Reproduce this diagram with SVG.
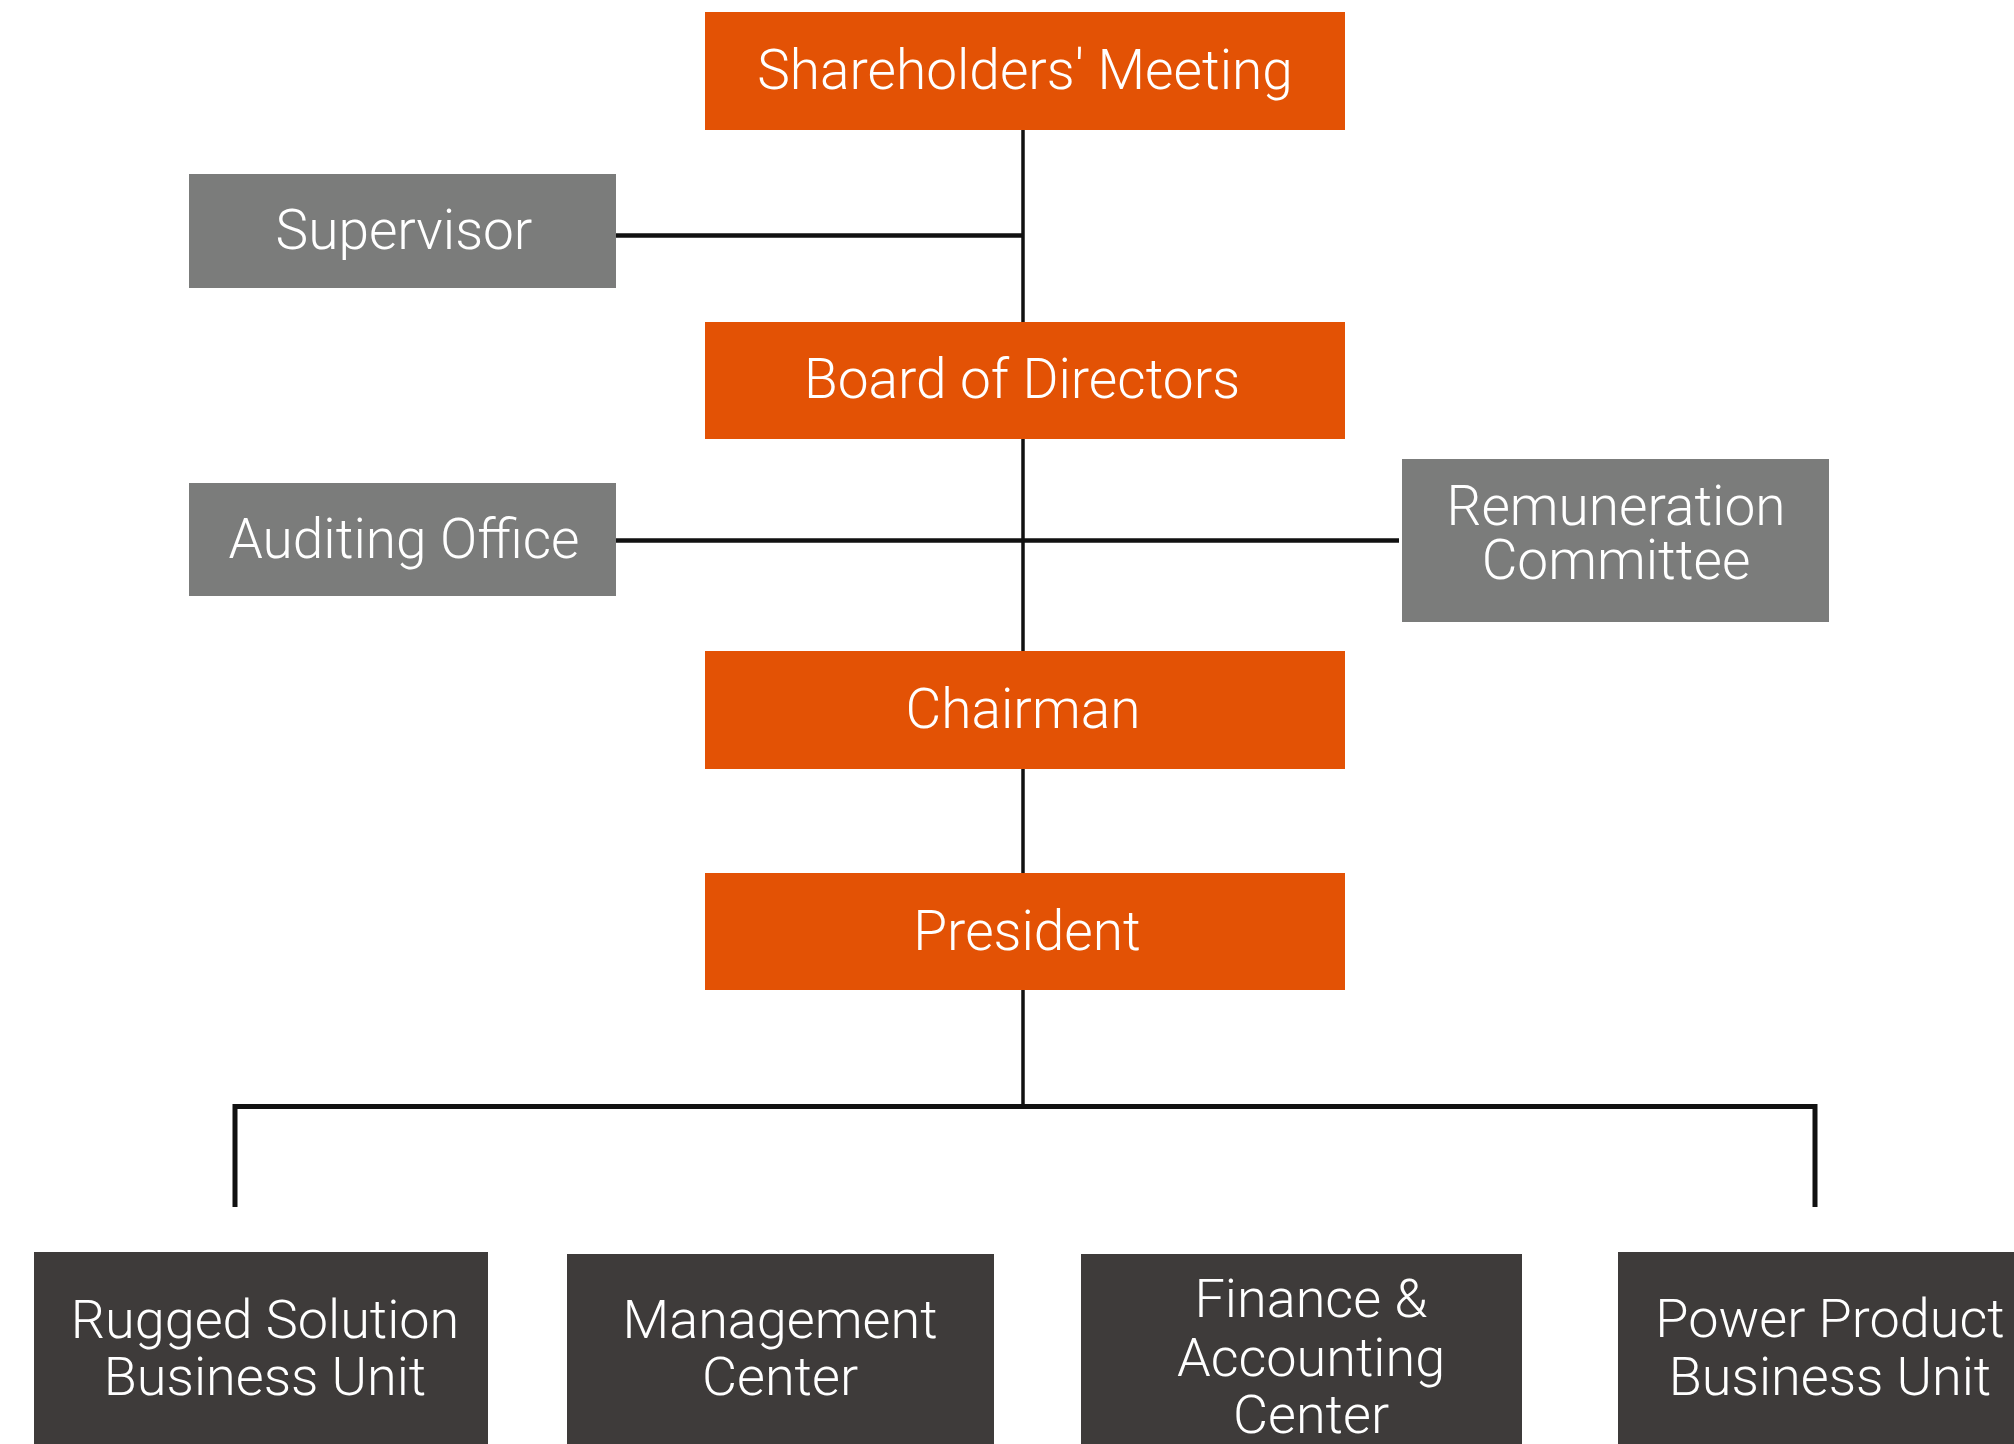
<svg xmlns="http://www.w3.org/2000/svg" width="2014" height="1444" viewBox="0 0 2014 1444">
<style>
.o{fill:#E35205}
.g{fill:#7B7C7B}
.d{fill:#3E3B3A}
text{fill:#FFFFFF;font-family:Roboto,"Liberation Sans",Arial,sans-serif;font-weight:300;text-anchor:middle}
.t{font-size:55px}
.b{font-size:54px}
.ln{stroke:#111111;fill:none}
</style>
<rect width="2014" height="1444" fill="#FFFFFF"/>
<g id="connectors">
<line class="ln" x1="1023" y1="130" x2="1023" y2="322" stroke-width="3.5"/>
<line class="ln" x1="616" y1="235.5" x2="1024" y2="235.5" stroke-width="4.5"/>
<line class="ln" x1="1023" y1="439" x2="1023" y2="651" stroke-width="3.5"/>
<line class="ln" x1="616" y1="540.5" x2="1399" y2="540.5" stroke-width="4.5"/>
<line class="ln" x1="1023" y1="769" x2="1023" y2="873" stroke-width="3.5"/>
<line class="ln" x1="1023" y1="990" x2="1023" y2="1106" stroke-width="3.5"/>
<polyline class="ln" points="235,1207 235,1106.5 1815,1106.5 1815,1207" stroke-width="5"/>
</g>
<g id="shareholders">
<rect class="o" x="705" y="12" width="640" height="118"/>
<text class="t" x="1025" y="89">Shareholders' Meeting</text>
</g>
<g id="supervisor">
<rect class="g" x="189" y="174" width="427" height="114"/>
<text class="t" x="404" y="249">Supervisor</text>
</g>
<g id="board">
<rect class="o" x="705" y="322" width="640" height="117"/>
<text class="t" x="1022" y="398">Board of Directors</text>
</g>
<g id="auditing">
<rect class="g" x="189" y="483" width="427" height="113"/>
<text class="t" x="404" y="558">Auditing Office</text>
</g>
<g id="remuneration">
<rect class="g" x="1402" y="459" width="427" height="163"/>
<text class="t" x="1616" y="525">Remuneration</text>
<text class="t" x="1616" y="579">Committee</text>
</g>
<g id="chairman">
<rect class="o" x="705" y="651" width="640" height="118"/>
<text class="t" x="1023" y="728">Chairman</text>
</g>
<g id="president">
<rect class="o" x="705" y="873" width="640" height="117"/>
<text class="t" x="1027" y="950">President</text>
</g>
<g id="rugged">
<rect class="d" x="34" y="1252" width="454" height="192"/>
<text class="b" x="265" y="1338">Rugged Solution</text>
<text class="b" x="265" y="1395">Business Unit</text>
</g>
<g id="management">
<rect class="d" x="567" y="1254" width="427" height="190"/>
<text class="b" x="780" y="1338">Management</text>
<text class="b" x="780" y="1395">Center</text>
</g>
<g id="finance">
<rect class="d" x="1081" y="1254" width="441" height="190"/>
<text class="b" x="1311" y="1317">Finance &amp;</text>
<text class="b" x="1311" y="1376">Accounting</text>
<text class="b" x="1311" y="1433">Center</text>
</g>
<g id="power">
<rect class="d" x="1618" y="1252" width="396" height="192"/>
<text class="b" x="1830" y="1337">Power Product</text>
<text class="b" x="1830" y="1395">Business Unit</text>
</g>
</svg>
